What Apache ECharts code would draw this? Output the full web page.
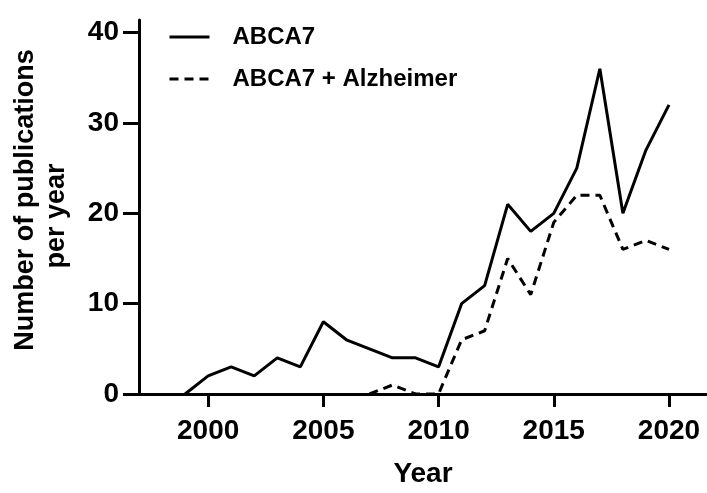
<!DOCTYPE html>
<html lang="en">
<head>
    <meta charset="UTF-8">
    <title>ABCA7 publications</title>
    <script src="https://cdn.jsdelivr.net/npm/echarts@6/dist/echarts.min.js"></script>
    <style>
        html, body { margin: 0; padding: 0; background: #fff; }
        #container { width: 707px; height: 493px; }
    </style>
</head>
<body>
<div id="container"></div>
<script>
    // values
    const years = [1999, 2000, 2001, 2002, 2003, 2004, 2005, 2006, 2007, 2008, 2009,
        2010, 2011, 2012, 2013, 2014, 2015, 2016, 2017, 2018, 2019, 2020];
    const abca7 = [0, 2, 3, 2, 4, 3, 8, 6, 5, 4, 4,
        3, 10, 12, 21, 18, 20, 25, 36, 20, 27, 32];
    const alzYears = [2007, 2008, 2009, 2010, 2011, 2012, 2013, 2014, 2015, 2016, 2017, 2018, 2019, 2020];
    const abca7Alz = [0, 1, 0, 0, 6, 7, 15, 11, 19, 22, 22, 16, 17, 16];
    const xTicks = [2000, 2005, 2010, 2015, 2020];
    const yTicks = [0, 10, 20, 30, 40];

    const font = 'Liberation Sans, Arial, sans-serif';

    var dom = document.getElementById('container');
    var myChart = echarts.init(dom, null, {renderer: 'canvas'});

    var option = {
        animation: false,
        backgroundColor: '#fff',
        grid: {left: 139, top: 20, right: 0, bottom: 97, containLabel: false},
        legend: {
            orient: 'vertical',
            left: 163,
            top: 20,
            itemWidth: 40,
            itemHeight: 14,
            itemGap: 18,
            itemStyle: {opacity: 0},
            lineStyle: {width: 3},
            textStyle: {fontFamily: font, fontWeight: 'bold', fontSize: 24, color: '#000', padding: [0, 0, 0, 18]},
            data: ['ABCA7', 'ABCA7 + Alzheimer']
        },
        xAxis: {
            type: 'value',
            min: 1997,
            max: 2021.65,
            name: 'Year',
            nameLocation: 'middle',
            nameGap: 66,
            nameTextStyle: {fontFamily: font, fontWeight: 'bold', fontSize: 28, color: '#000'},
            splitLine: {show: false},
            axisLine: {show: true, onZero: false, lineStyle: {color: '#000', width: 3}},
            axisTick: {show: true, length: 13, lineStyle: {color: '#000', width: 3}, customValues: xTicks},
            axisLabel: {
                fontFamily: font, fontWeight: 'bold', fontSize: 28, color: '#000', margin: 23,
                customValues: xTicks,
                formatter: (v) => String(v)
            }
        },
        yAxis: {
            type: 'value',
            min: 0,
            max: 41.4,
            splitLine: {show: false},
            axisLine: {show: true, lineStyle: {color: '#000', width: 3}},
            axisTick: {show: true, length: 16, lineStyle: {color: '#000', width: 3}, customValues: yTicks},
            axisLabel: {
                fontFamily: font, fontWeight: 'bold', fontSize: 28, color: '#000', margin: 20,
                customValues: yTicks
            }
        },
        graphic: [
            {
                type: 'text', x: 26, y: 200, rotation: Math.PI / 2,
                style: {text: 'Number of publications', fontFamily: font, fontWeight: 'bold', fontSize: 27,
                    fill: '#000', textAlign: 'center', textVerticalAlign: 'middle'}
            },
            {
                type: 'text', x: 57, y: 216, rotation: Math.PI / 2,
                style: {text: 'per year', fontFamily: font, fontWeight: 'bold', fontSize: 27,
                    fill: '#000', textAlign: 'center', textVerticalAlign: 'middle'}
            }
        ],
        series: [
            {
                name: 'ABCA7',
                type: 'line',
                symbol: 'none',
                data: years.map((y, i) => [y, abca7[i]]),
                lineStyle: {color: '#000', width: 3},
                itemStyle: {color: '#000'}
            },
            {
                name: 'ABCA7 + Alzheimer',
                type: 'line',
                symbol: 'none',
                data: alzYears.map((y, i) => [y, abca7Alz[i]]),
                lineStyle: {color: '#000', width: 3, type: [9, 6]},
                itemStyle: {color: '#000'}
            }
        ]
    };

    myChart.setOption(option);
    window.addEventListener('resize', myChart.resize);
</script>
</body>
</html>
